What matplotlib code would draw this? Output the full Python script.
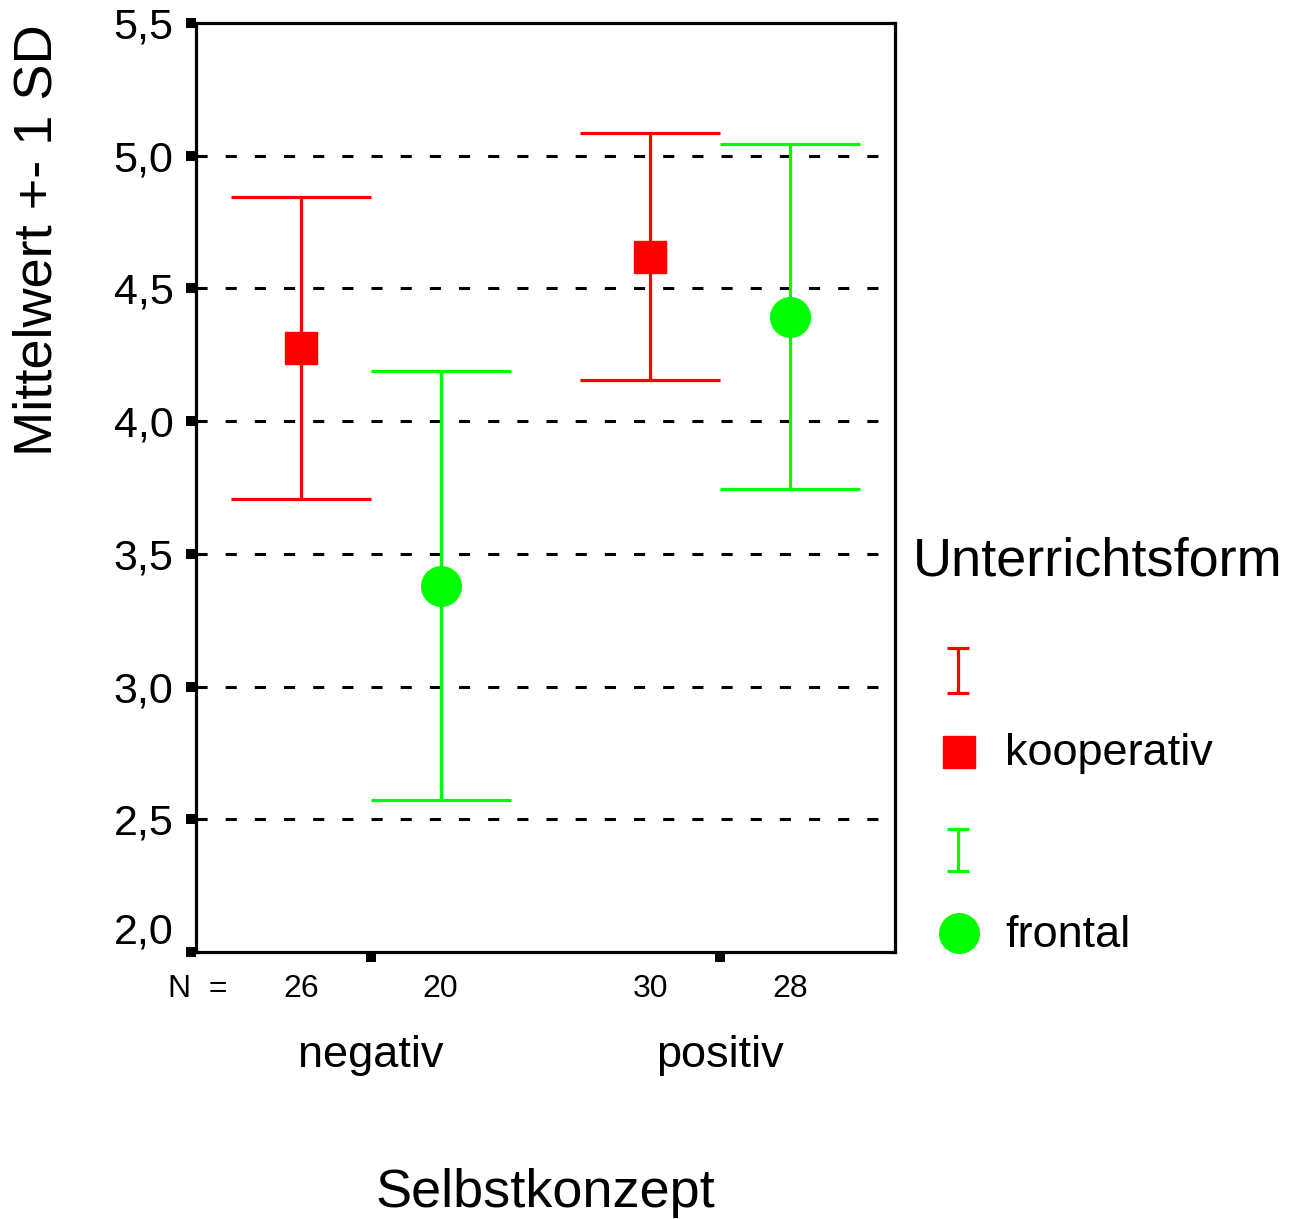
import numpy as np
import matplotlib.pyplot as plt
import matplotlib.transforms as mtransforms

plt.rcParams['font.family'] = ['Liberation Sans', 'DejaVu Sans']
plt.rcParams['lines.scale_dashes'] = False

# data
categories = ['negativ', 'positiv']
groups = ['kooperativ', 'frontal']
colors = ['#ff0000', '#00ff00']
markers = ['s', 'o']
marker_sizes = [23.5, 28.5]

mean_koop = [4.275, 4.62]
sd_koop = [0.570, 0.466]
n_koop = [26, 30]

mean_front = [3.38, 4.393]
sd_front = [0.808, 0.65]
n_front = [20, 28]

means = [mean_koop, mean_front]
sds = [sd_koop, sd_front]
ns = [n_koop, n_front]
offsets = [-0.2, 0.2]
cap_half = 0.2

W, H = 1291, 1219
fig = plt.figure(figsize=(W / 100, H / 100), dpi=100)
ax = fig.add_axes([196 / W, 1 - 952 / H, (895 - 196) / W, (952 - 23) / H])

x_cat = np.arange(1, len(categories) + 1)

for g in range(len(groups)):
    x = x_cat + offsets[g]
    m = np.array(means[g])
    s = np.array(sds[g])
    ax.vlines(x, m - s, m + s, color=colors[g], lw=2.3, zorder=3)
    ax.hlines(m - s, x - cap_half, x + cap_half, color=colors[g], lw=2.3, zorder=3)
    ax.hlines(m + s, x - cap_half, x + cap_half, color=colors[g], lw=2.3, zorder=3)
    ax.plot(x, m, ls='none', marker=markers[g], ms=marker_sizes[g],
            color=colors[g], mec=colors[g], zorder=4)

# dashed reference lines
for v in np.arange(2.5, 5.01, 0.5):
    ax.axhline(v, color='black', lw=2.2, ls=(0, (8, 13)), zorder=1)

ax.set_xlim(0.5, 2.5)
ax.set_ylim(2.0, 5.5)

for sp in ax.spines.values():
    sp.set_linewidth(2.3)

yt = np.arange(2.0, 5.51, 0.5)
ax.set_yticks(yt)
ax.set_yticklabels([f"{v:.1f}".replace('.', ',') for v in yt])
ax.tick_params(axis='y', direction='out', length=7.2, width=7.2,
               labelsize=31, pad=9)
# bottom label nudged up like the original
lab0 = ax.get_yticklabels()[0]
lab0.set_transform(lab0.get_transform() +
                   mtransforms.ScaledTranslation(0, 24 / 100, fig.dpi_scale_trans))

ax.set_xticks(x_cat)
ax.set_xticklabels([])
ax.tick_params(axis='x', direction='out', length=7.2, width=7.2)

blend = mtransforms.blended_transform_factory(ax.transData, ax.transAxes)
ax_h = 952 - 23

def yfrac(py):
    return (952 - py) / ax_h

for g in range(len(groups)):
    for i in range(len(categories)):
        ax.text(x_cat[i] + offsets[g], yfrac(997), str(ns[g][i]),
                transform=blend, ha='center', va='baseline', fontsize=23)
for i, c in enumerate(categories):
    ax.text(x_cat[i], yfrac(1067), c, transform=blend,
            ha='center', va='baseline', fontsize=32.5)
ax.text(0.5, yfrac(1207), 'Selbstkonzept', transform=ax.transAxes,
        ha='center', va='baseline', fontsize=39)

# overlay in pixel units for free-standing text and legend
ov = fig.add_axes([0, 0, 1, 1])
ov.set_xlim(0, W)
ov.set_ylim(H, 0)
ov.axis('off')

ov.text(168, 997, 'N  =', ha='left', va='baseline', fontsize=23)
ov.text(38, 240, 'Mittelwert +- 1 SD', rotation=90, ha='center', va='center',
        fontsize=39)

ov.text(913, 575, 'Unterrichtsform', ha='left', va='baseline', fontsize=39)
leg_bar_y = [(648, 693), (829, 871)]
leg_mark_y = [752, 933]
leg_text_y = [765, 947]
for g in range(len(groups)):
    y0, y1 = leg_bar_y[g]
    ov.vlines(958, y0, y1, color=colors[g], lw=2.3)
    ov.hlines([y0, y1], 947, 969, color=colors[g], lw=2.3)
    ov.plot([959], [leg_mark_y[g]], ls='none', marker=markers[g],
            ms=marker_sizes[g], color=colors[g])
    ov.text(1005, leg_text_y[g], groups[g], ha='left', va='baseline',
            fontsize=32.5)

fig.savefig('out.png', dpi=100)
